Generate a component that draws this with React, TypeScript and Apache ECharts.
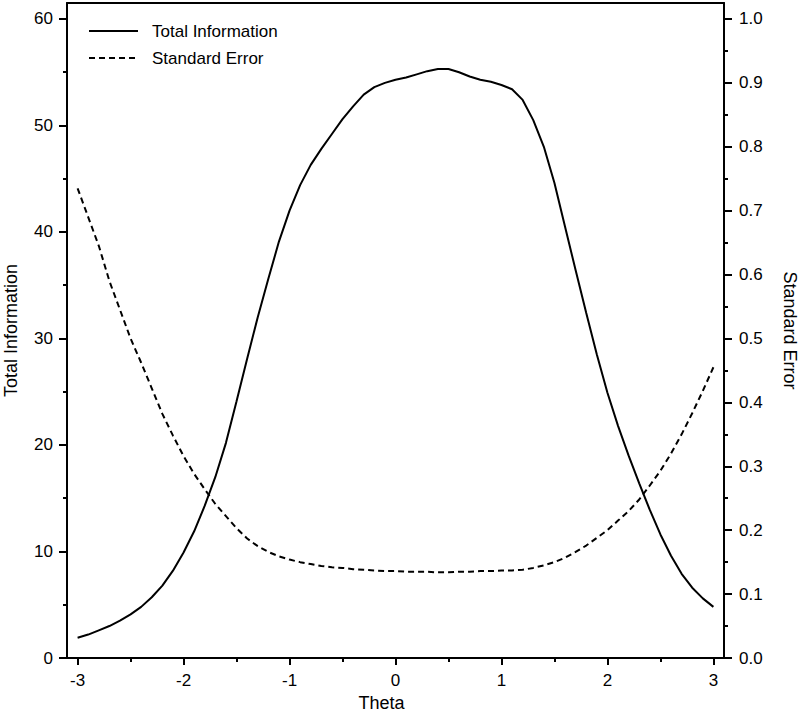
import React, { useEffect, useRef } from "react";
import * as echarts from "echarts";

const theta = [
  -3.0, -2.9, -2.8, -2.7, -2.6, -2.5, -2.4, -2.3, -2.2, -2.1,
  -2.0, -1.9, -1.8, -1.7, -1.6, -1.5, -1.4, -1.3, -1.2, -1.1,
  -1.0, -0.9, -0.8, -0.7, -0.6, -0.5, -0.4, -0.3, -0.2, -0.1,
  0.0, 0.1, 0.2, 0.3, 0.4, 0.5, 0.6, 0.7, 0.8, 0.9,
  1.0, 1.1, 1.2, 1.3, 1.4, 1.5, 1.6, 1.7, 1.8, 1.9,
  2.0, 2.1, 2.2, 2.3, 2.4, 2.5, 2.6, 2.7, 2.8, 2.9, 3.0,
];

const totalInformation = [
  1.9, 2.2, 2.6, 3.0, 3.5, 4.1, 4.8, 5.7, 6.8, 8.2,
  9.9, 11.9, 14.3, 17.0, 20.2, 24.1, 28.1, 32.0, 35.6, 39.1,
  42.0, 44.4, 46.3, 47.8, 49.2, 50.6, 51.8, 52.9, 53.6, 54.0,
  54.3, 54.5, 54.8, 55.1, 55.3, 55.3, 55.0, 54.6, 54.3, 54.1,
  53.8, 53.4, 52.4, 50.5, 48.0, 44.6, 40.5, 36.4, 32.4, 28.5,
  24.9, 21.8, 19.0, 16.4, 13.9, 11.6, 9.6, 7.9, 6.6, 5.6, 4.8,
];

const standardError = [
  0.735, 0.690, 0.645, 0.590, 0.545, 0.500, 0.462, 0.422, 0.382, 0.348,
  0.316, 0.288, 0.264, 0.241, 0.222, 0.203, 0.187, 0.175, 0.166, 0.159,
  0.154, 0.150, 0.147, 0.144, 0.142, 0.141, 0.139, 0.138, 0.137, 0.136,
  0.136, 0.135, 0.135, 0.135, 0.134, 0.134, 0.135, 0.135, 0.136, 0.136,
  0.137, 0.137, 0.138, 0.141, 0.145, 0.150, 0.157, 0.166, 0.176, 0.188,
  0.200, 0.215, 0.230, 0.248, 0.270, 0.293, 0.320, 0.350, 0.383, 0.418, 0.455,
];

const xMajorTicks = [-3, -2, -1, 0, 1, 2, 3];
const xMinorTicks = [-2.5, -1.5, -0.5, 0.5, 1.5, 2.5];
const leftMajorTicks = [0, 10, 20, 30, 40, 50, 60];
const leftMinorTicks = [5, 15, 25, 35, 45, 55];
const rightMajorTicks = [0, 0.1, 0.2, 0.3, 0.4, 0.5, 0.6, 0.7, 0.8, 0.9, 1.0];
const rightMinorTicks = [0.05, 0.15, 0.25, 0.35, 0.45, 0.55, 0.65, 0.75, 0.85, 0.95];

const FONT = "'Liberation Sans', Arial, sans-serif";

export default function App() {
  const ref = useRef<HTMLDivElement>(null);

  useEffect(() => {
    if (!ref.current) return;
    const chart = echarts.init(ref.current, undefined, { renderer: "svg" });

    const axisLine = { show: true, onZero: false, lineStyle: { color: "#000", width: 2 } };
    const noLine = { show: false, onZero: false };
    const labelStyle = { color: "#000", fontSize: 17, fontFamily: FONT };
    const nameStyle = { color: "#000", fontSize: 18, fontFamily: FONT };
    const tickStyle = { color: "#000", width: 2 };

    const tiData = theta.map((t, i) => [t, totalInformation[i]]);
    const seData = theta.map((t, i) => [t, standardError[i]]);

    chart.setOption({
      animation: false,
      backgroundColor: "#fff",
      grid: {
        left: 67,
        right: 76,
        top: 3,
        bottom: 57,
        outerBoundsMode: "none",
        containLabel: false,
      },
      legend: {
        orient: "vertical",
        left: 88,
        top: 21,
        padding: 0,
        itemWidth: 49,
        itemHeight: 14,
        itemGap: 7,
        itemStyle: { opacity: 0 },
        textStyle: {
          color: "#000",
          fontSize: 17,
          fontFamily: FONT,
          lineHeight: 20,
          padding: [0, 0, 0, 9],
        },
        data: ["Total Information", "Standard Error"],
      },
      xAxis: [
        {
          type: "value",
          min: -3.1,
          max: 3.1,
          position: "bottom",
          axisLine,
          axisTick: {
            show: true,
            inside: false,
            length: 7,
            lineStyle: tickStyle,
            customValues: xMajorTicks,
          },
          axisLabel: {
            ...labelStyle,
            margin: 14,
            customValues: xMajorTicks,
          },
          splitLine: { show: false },
          name: "Theta",
          nameLocation: "middle",
          nameGap: 36,
          nameTextStyle: { ...nameStyle, padding: [0, 28, 0, 0] },
        },
        {
          type: "value",
          min: -3.1,
          max: 3.1,
          position: "bottom",
          axisLine: noLine,
          axisTick: {
            show: true,
            inside: false,
            length: 4,
            lineStyle: tickStyle,
            customValues: xMinorTicks,
          },
          axisLabel: { show: false },
          splitLine: { show: false },
        },
        {
          type: "value",
          min: -3.1,
          max: 3.1,
          position: "top",
          axisLine,
          axisTick: { show: false },
          axisLabel: { show: false },
          splitLine: { show: false },
        },
      ],
      yAxis: [
        {
          type: "value",
          min: 0,
          max: 61.5,
          position: "left",
          axisLine,
          axisTick: {
            show: true,
            inside: false,
            length: 8,
            lineStyle: tickStyle,
            customValues: leftMajorTicks,
          },
          axisLabel: {
            ...labelStyle,
            margin: 14,
            customValues: leftMajorTicks,
          },
          splitLine: { show: false },
          name: "Total Information",
          nameLocation: "middle",
          nameGap: 47,
          nameTextStyle: nameStyle,
        },
        {
          type: "value",
          min: 0,
          max: 1.025,
          position: "right",
          axisLine,
          axisTick: {
            show: true,
            inside: false,
            length: 8,
            lineStyle: tickStyle,
            customValues: rightMajorTicks,
          },
          axisLabel: {
            ...labelStyle,
            margin: 15,
            customValues: rightMajorTicks,
            formatter: (v: number) => v.toFixed(1),
          },
          splitLine: { show: false },
          name: "Standard Error",
          nameLocation: "middle",
          nameRotate: -90,
          nameGap: 57,
          nameTextStyle: nameStyle,
        },
        {
          type: "value",
          min: 0,
          max: 61.5,
          position: "left",
          axisLine: noLine,
          axisTick: {
            show: true,
            inside: false,
            length: 4,
            lineStyle: tickStyle,
            customValues: leftMinorTicks,
          },
          axisLabel: { show: false },
          splitLine: { show: false },
        },
        {
          type: "value",
          min: 0,
          max: 1.025,
          position: "right",
          axisLine: noLine,
          axisTick: {
            show: true,
            inside: false,
            length: 4,
            lineStyle: tickStyle,
            customValues: rightMinorTicks,
          },
          axisLabel: { show: false },
          splitLine: { show: false },
        },
      ],
      series: [
        {
          name: "Total Information",
          type: "line",
          xAxisIndex: 0,
          yAxisIndex: 0,
          data: tiData,
          symbol: "none",
          showSymbol: false,
          smooth: false,
          itemStyle: { color: "#000" },
          lineStyle: { color: "#000", width: 2, type: "solid" },
        },
        {
          name: "Standard Error",
          type: "line",
          xAxisIndex: 0,
          yAxisIndex: 1,
          data: seData,
          symbol: "none",
          showSymbol: false,
          smooth: false,
          itemStyle: { color: "#000" },
          lineStyle: { color: "#000", width: 2, type: [6, 4] },
        },
      ],
    });

    return () => {
      chart.dispose();
    };
  }, []);

  return (
    <div
      ref={ref}
      style={{ width: 800, height: 715, position: "absolute", left: 0, top: 0 }}
    />
  );
}
